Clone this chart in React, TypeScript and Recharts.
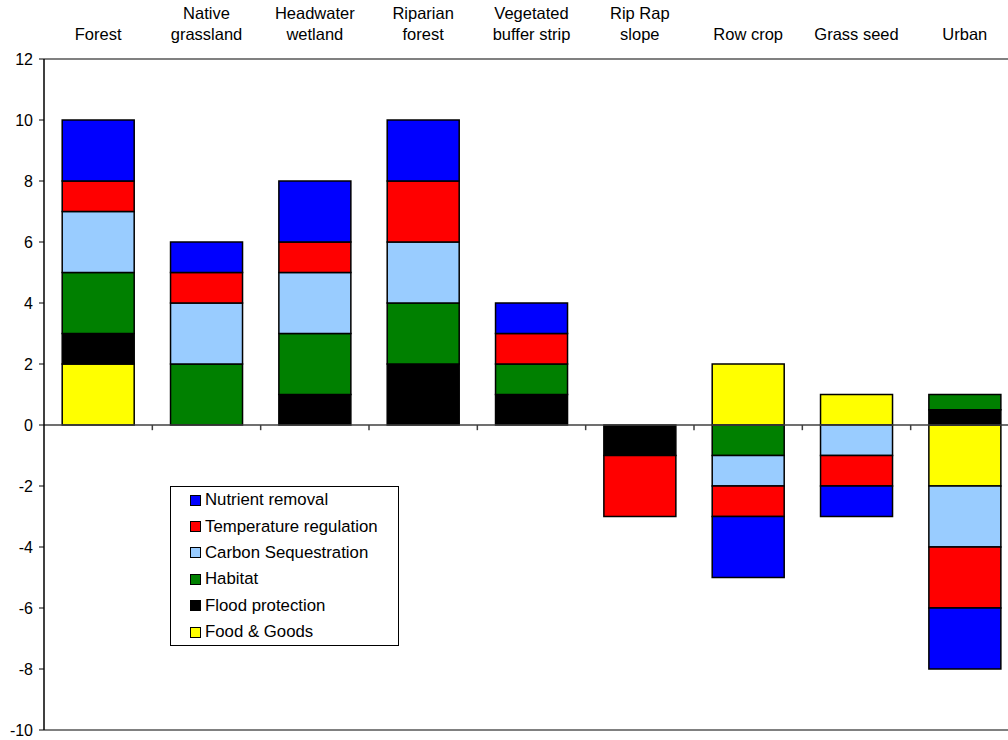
import React from 'react'
import { BarChart, Bar, XAxis, YAxis, ReferenceLine, Legend } from 'recharts'

// land uses, top labels (line break where the label wraps)
const categories = [
    'Forest',
    'Native\ngrassland',
    'Headwater\nwetland',
    'Riparian\nforest',
    'Vegetated\nbuffer strip',
    'Rip Rap\nslope',
    'Row crop',
    'Grass seed',
    'Urban',
]

// ecosystem service scores per land use (stack order bottom -> top)
const foodGoods = [2, 0, 0, 0, 0, 0, 2, 1, -2]
const floodProtection = [1, 0, 1, 2, 1, -1, 0, 0, 0.5]
const habitat = [2, 2, 2, 2, 1, 0, -1, 0, 0.5]
const carbonSequestration = [2, 2, 2, 2, 0, 0, -1, -1, -2]
const temperatureRegulation = [1, 1, 1, 2, 1, -2, -1, -1, -2]
const nutrientRemoval = [2, 1, 2, 2, 1, 0, -2, -1, -2]

const yTicks = [-10, -8, -6, -4, -2, 0, 2, 4, 6, 8, 10, 12]

const FONT = '"Liberation Sans", Arial, sans-serif'

const series = [
    { key: 'food', name: 'Food & Goods', color: '#FFFF00', values: foodGoods },
    { key: 'flood', name: 'Flood protection', color: '#000000', values: floodProtection },
    { key: 'habitat', name: 'Habitat', color: '#008000', values: habitat },
    { key: 'carbon', name: 'Carbon Sequestration', color: '#99CCFF', values: carbonSequestration },
    { key: 'temp', name: 'Temperature regulation', color: '#FF0000', values: temperatureRegulation },
    { key: 'nutrient', name: 'Nutrient removal', color: '#0000FF', values: nutrientRemoval },
]

const data = categories.map((c, i) => {
    const row: any = { name: c, idx: i + 0.5 }
    series.forEach(s => { row[s.key] = s.values[i] })
    return row
})

// boundaries between categories, for the small ticks on the zero line
const boundaries = categories.slice(1).map((_, i) => i + 1)

const CategoryTick = (props: any) => {
    const { x, y, payload } = props
    const lines = String(payload.value).split('\n')
    return (
        <g>
            {lines.map((l, i) => (
                <text key={i} x={x} y={y - 19 - (lines.length - 1 - i) * 21}
                    textAnchor="middle" fontSize={16.5} fontFamily={FONT} fill="#000">
                    {l}
                </text>
            ))}
        </g>
    )
}

const LegendBox = () => (
    <div style={{
        width: 229, height: 160, boxSizing: 'border-box', border: '1px solid #000',
        background: '#fff', paddingTop: 0, paddingLeft: 19, fontFamily: FONT, fontSize: 16.8,
    }}>
        {[...series].reverse().map(s => (
            <div key={s.key} style={{ display: 'flex', alignItems: 'center', height: 26.4 }}>
                <span style={{
                    display: 'inline-block', width: 9, height: 9, background: s.color,
                    border: '1px solid #000', marginRight: 4,
                }} />
                <span>{s.name}</span>
            </div>
        ))}
    </div>
)

const App = () => {
    return (
        <div style={{ position: 'absolute', left: 0, top: 0, width: 1008, height: 740, overflow: 'hidden', background: '#fff' }}>
            <BarChart width={1019} height={740} data={data} stackOffset="sign"
                barCategoryGap="16.8%" margin={{ top: 0, right: 0, bottom: 10, left: 0 }}>
                <XAxis dataKey="name" orientation="top" height={59} axisLine={false}
                    tickLine={false} tickSize={0} tickMargin={0} interval={0} tick={<CategoryTick />} />
                <XAxis xAxisId="num" type="number" dataKey="idx" domain={[0, categories.length]} hide />
                <YAxis width={44} domain={[-10, 12]} ticks={yTicks} interval={0}
                    axisLine={{ stroke: '#000', strokeWidth: 1.5 }}
                    tickLine={{ stroke: '#000' }} tickSize={5} tickMargin={6}
                    tick={{ fill: '#000', fontSize: 16, fontFamily: FONT }} />
                <ReferenceLine y={12} stroke="#808080" strokeWidth={2} />
                <ReferenceLine y={-10} stroke="#808080" strokeWidth={2} />
                {series.map(s => (
                    <Bar key={s.key} dataKey={s.key} name={s.name} stackId="a" fill={s.color}
                        stroke="#000" strokeWidth={1.5} isAnimationActive={false} />
                ))}
                <ReferenceLine y={0} stroke="#404040" strokeWidth={1.5} />
                {boundaries.map(b => (
                    <ReferenceLine key={b} xAxisId="num" stroke="#404040" strokeWidth={1.5}
                        segment={[{ x: b, y: 0 }, { x: b, y: -0.17 }]} />
                ))}
                <Legend layout="vertical" align="center" verticalAlign="middle"
                    content={<LegendBox />}
                    wrapperStyle={{ position: 'absolute', left: 170, top: 486, width: 229, height: 160 }} />
            </BarChart>
        </div>
    )
}

export default App
